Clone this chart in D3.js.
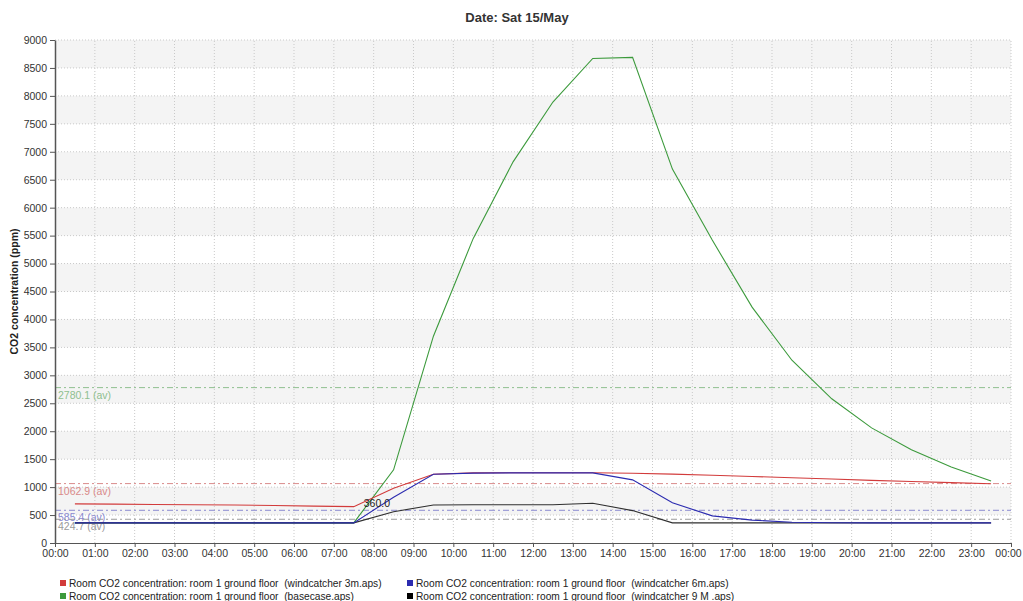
<!DOCTYPE html>
<html>
<head>
<meta charset="utf-8">
<script src="https://cdn.jsdelivr.net/npm/d3@7"></script>
<style>
  body { margin: 0; background: #fff; }
  svg text { font-family: "Liberation Sans", Arial, sans-serif; }
</style>
</head>
<body>
<div id="chart"></div>
<script>
// hodiny (pulhodinove body)
const hours = d3.range(0.5, 24, 1);
const tickHours = d3.range(0, 25, 1);
const yTicks = d3.range(0, 9001, 500);

// hodnoty CO2 (ppm)
const redVals = [700, 695, 690, 685, 680, 670, 660, 650, 980, 1230, 1255, 1258, 1258, 1258, 1248, 1232, 1212, 1190, 1168, 1145, 1120, 1100, 1080, 1060];
const greenVals = [360, 360, 360, 360, 360, 360, 360, 360, 1310, 3700, 5450, 6820, 7890, 8670, 8690, 6690, 5420, 4220, 3270, 2580, 2060, 1670, 1360, 1110];
const blueVals = [360, 360, 360, 360, 360, 360, 360, 360, 820, 1230, 1250, 1255, 1255, 1255, 1130, 720, 485, 410, 370, 362, 360, 360, 360, 360];
const blackVals = [360, 360, 360, 360, 360, 360, 360, 360, 560, 680, 685, 685, 685, 710, 580, 360, 360, 360, 360, 360, 360, 360, 360, 360];

const seriesNames = [
    "Room CO2 concentration: room 1 ground floor  (windcatcher 3m.aps)",
    "Room CO2 concentration: room 1 ground floor  (basecase.aps)",
    "Room CO2 concentration: room 1 ground floor  (windcatcher 6m.aps)",
    "Room CO2 concentration: room 1 ground floor  (windcatcher 9 M .aps)"
];
const averages = [1062.9, 2780.1, 585.4, 424.7];
const lineColors = ["#d23b3b", "#3c9a3c", "#2b2bb0", "#2f2f2f"];
const avColors = ["#d98a8a", "#8fbf8f", "#8a8ad0", "#9a9a9a"];

const series = [redVals, greenVals, blueVals, blackVals];

const W = 1023, H = 601;
const m = { left: 55, right: 12, top: 40, bottom: 58 };

const svg = d3.select("#chart").append("svg")
    .attr("width", W)
    .attr("height", H);

const x = d3.scaleLinear().domain([0, 24]).range([m.left, W - m.right]);
const y = d3.scaleLinear().domain([0, 9000]).range([H - m.bottom, m.top]);

// pruhy pozadi
const bands = d3.range(500, 9000, 1000);
svg.append("g").selectAll("rect")
    .data(bands)
    .join("rect")
    .attr("x", x(0))
    .attr("width", x(24) - x(0))
    .attr("y", d => y(d + 500))
    .attr("height", d => y(d) - y(d + 500))
    .attr("fill", "#f4f4f4");

// mrizka
const grid = svg.append("g").attr("stroke", "#c9c9c9").attr("stroke-dasharray", "1,2");
grid.selectAll(".gy")
    .data(yTicks.filter(d => d > 0))
    .join("line")
    .attr("x1", x(0)).attr("x2", x(24))
    .attr("y1", d => y(d)).attr("y2", d => y(d));
grid.selectAll(".gx")
    .data(tickHours.filter(d => d > 0))
    .join("line")
    .attr("x1", d => x(d)).attr("x2", d => x(d))
    .attr("y1", y(0)).attr("y2", y(9000));

// prumery
const av = svg.append("g");
averages.forEach((a, i) => {
    av.append("line")
        .attr("x1", x(0)).attr("x2", x(24))
        .attr("y1", y(a)).attr("y2", y(a))
        .attr("stroke", avColors[i])
        .attr("stroke-dasharray", "6,3,2,3");
    av.append("text")
        .attr("x", x(0) + 3)
        .attr("y", y(a) + 11)
        .attr("font-size", 10.5)
        .attr("fill", avColors[i])
        .text(`${a.toFixed(1)} (av)`);
});

// osy
const xAxis = d3.axisBottom(x)
    .tickValues(tickHours)
    .tickSize(4)
    .tickFormat(d => `${String(d % 24).padStart(2, "0")}:00`);
const gx = svg.append("g")
    .attr("transform", `translate(0,${y(0)})`)
    .call(xAxis);
gx.select(".domain").attr("stroke", "#555");
gx.selectAll(".tick line").attr("stroke", "#555");
gx.selectAll("text").attr("font-size", 10.5).attr("fill", "#333")
    .attr("font-family", "Liberation Sans, Arial, sans-serif");
// posledni popisek trochu doleva, aby se vesel
gx.selectAll("text").filter(d => d === 24).attr("dx", -3);

const yAxis = d3.axisLeft(y)
    .tickValues(yTicks)
    .tickSize(5)
    .tickSizeOuter(0)
    .tickFormat(d3.format("d"));
const gy = svg.append("g")
    .attr("transform", `translate(${x(0)},0)`)
    .call(yAxis);
gy.select(".domain").attr("stroke", "#555").attr("stroke-width", 1.5);
gy.selectAll(".tick line").attr("stroke", "#555");
gy.selectAll("text").attr("font-size", 10.5).attr("fill", "#333")
    .attr("font-family", "Liberation Sans, Arial, sans-serif");

// krivky
const line = d3.line()
    .x((d, i) => x(hours[i]))
    .y(d => y(d));
// poradi kresleni: zelena, cervena, cerna, modra
[1, 0, 3, 2].forEach(i => {
    svg.append("path")
        .datum(series[i])
        .attr("fill", "none")
        .attr("stroke", lineColors[i])
        .attr("stroke-width", 1.1)
        .attr("d", line);
});

// popisek hodnoty
svg.append("text")
    .attr("x", x(7.75))
    .attr("y", y(640))
    .attr("font-size", 10.5)
    .attr("fill", "#222")
    .text("360.0");

// titulek
svg.append("text")
    .attr("x", 517)
    .attr("y", 22)
    .attr("text-anchor", "middle")
    .attr("font-size", 13)
    .attr("font-weight", "bold")
    .attr("fill", "#333")
    .text("Date: Sat 15/May");

svg.append("text")
    .attr("transform", `translate(18,${(y(0) + y(9000)) / 2}) rotate(-90)`)
    .attr("text-anchor", "middle")
    .attr("font-size", 10.5)
    .attr("font-weight", "bold")
    .attr("fill", "#222")
    .text("CO2 concentration (ppm)");

// legenda
const legPos = [[60, 583], [60, 596], [407, 583], [407, 596]];
const leg = svg.append("g");
seriesNames.forEach((n, i) => {
    const g = leg.append("g").attr("transform", `translate(${legPos[i][0]},${legPos[i][1]})`);
    g.append("rect")
        .attr("x", 0).attr("y", -3)
        .attr("width", 6).attr("height", 6)
        .attr("fill", lineColors[i] === "#2f2f2f" ? "#000" : lineColors[i]);
    g.append("text")
        .attr("x", 9).attr("y", 3.5)
        .attr("font-size", 10.2)
        .attr("fill", "#222")
        .style("white-space", "pre")
        .text(n);
});
</script>
</body>
</html>
